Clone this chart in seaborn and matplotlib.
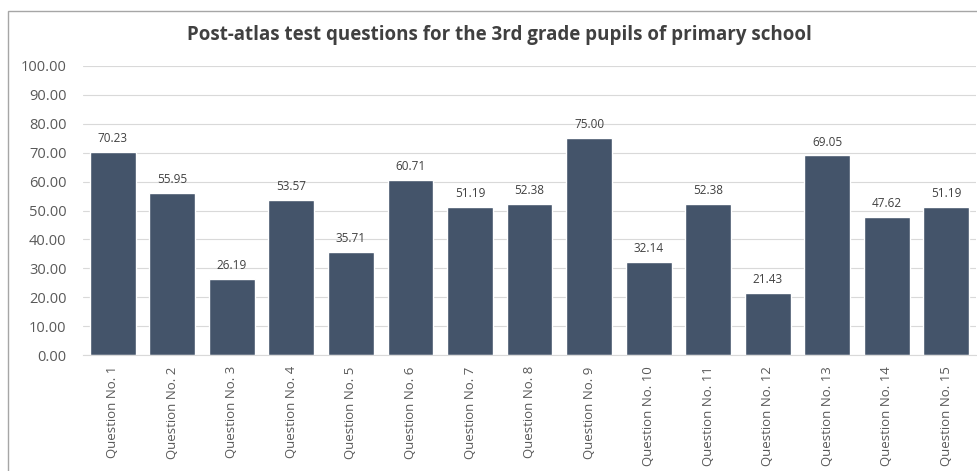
import matplotlib
matplotlib.use("Agg")
import matplotlib.pyplot as plt
import seaborn as sns
import pandas as pd
from matplotlib.patches import Rectangle

questions = [f"Question No. {i}" for i in range(1, 16)]
scores = [70.23, 55.95, 26.19, 53.57, 35.71, 60.71, 51.19, 52.38,
          75.00, 32.14, 52.38, 21.43, 69.05, 47.62, 51.19]
y_ticks = [0, 10, 20, 30, 40, 50, 60, 70, 80, 90, 100]

df = pd.DataFrame({"question": questions, "score": scores})

sns.set_style("white")
plt.rcParams['font.family'] = ['Open Sans', 'DejaVu Sans']
text_gray = "#595959"

fig = plt.figure(figsize=(9.77, 4.71), dpi=100)
ax = fig.add_axes([0.085, 0.246, 0.914, 0.614])

sns.barplot(data=df, x="question", y="score", color="#44546A",
            saturation=1, width=0.77, ax=ax)

for p, v in zip(ax.patches, scores):
    ax.annotate(f"{v:.2f}", (p.get_x() + p.get_width() / 2, v),
                xytext=(0, 5), textcoords="offset points",
                ha="center", va="bottom", fontsize=8.5, color="#404040")

ax.set_ylim(0, 100)
ax.set_yticks(y_ticks)
ax.set_yticklabels([f"{t:.2f}" for t in y_ticks], fontsize=10.5, color=text_gray)
ax.set_xlim(-0.5, 14.5)
ax.tick_params(axis="x", rotation=90, labelsize=9.5, labelcolor=text_gray, length=0, pad=8)
ax.tick_params(axis="y", length=0, pad=12)
ax.yaxis.grid(True, color="#D9D9D9", linewidth=0.8)
ax.set_axisbelow(True)
ax.set_xlabel("")
ax.set_ylabel("")
for s in ["top", "right", "left"]:
    ax.spines[s].set_visible(False)
ax.spines["bottom"].set_color("#D9D9D9")

fig.text(0.511, 0.925, "Post-atlas test questions for the 3rd grade pupils of primary school",
         ha="center", va="center", fontsize=13.5, fontweight="bold", color="#404040")

fig.patches.append(Rectangle((0.008, -0.05), 1.2, 1.027, transform=fig.transFigure,
                             fill=False, edgecolor="#A6A6A6", linewidth=1))

fig.savefig("out.png", dpi=100)
